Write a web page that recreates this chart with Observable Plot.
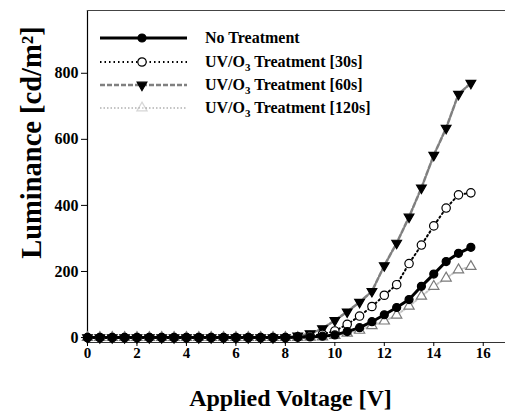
<!DOCTYPE html>
<html>
<head>
<meta charset="utf-8">
<script src="https://cdn.jsdelivr.net/npm/d3@7"></script>
<script src="https://cdn.jsdelivr.net/npm/@observablehq/plot@0.6"></script>
<style>
  html, body { margin: 0; padding: 0; background: #fff; }
  #wrap { position: relative; width: 505px; height: 419px; font-family: "Liberation Serif", "Times New Roman", serif; }
  #legend { position: absolute; left: 100px; top: 0; font-weight: bold; font-size: 16px; color: #000; }
  .row { position: absolute; left: 0; display: flex; align-items: center; height: 20px; white-space: nowrap; }
  .row svg { width: 90px; height: 14px; margin-right: 15px; overflow: visible; flex: none; }
</style>
</head>
<body>
<div id="wrap">
  <div id="legend"></div>
</div>
<script>
// ---- data ----
const voltage = [0, 0.5, 1, 1.5, 2, 2.5, 3, 3.5, 4, 4.5, 5, 5.5, 6, 6.5, 7, 7.5,
                 8, 8.5, 9, 9.5, 10, 10.5, 11, 11.5, 12, 12.5, 13, 13.5, 14, 14.5, 15, 15.5];
const noTreatment = [0, 0, 0, 0, 0, 0, 0, 0, 0, 0, 0, 0, 0, 0, 0, 0,
                     0, 1, 2, 4, 8, 18, 30, 48, 69, 91, 115, 155, 192, 230, 255, 273];
const uv30 = [0, 0, 0, 0, 0, 0, 0, 0, 0, 0, 0, 0, 0, 0, 0, 0,
              0, 2, 5, 10, 20, 40, 65, 94, 128, 160, 224, 280, 338, 392, 432, 438];
const uv60 = [0, 0, 0, 0, 0, 0, 0, 0, 0, 0, 0, 0, 0, 0, 0, 0,
              0, 5, 12, 27, 52, 78, 107, 140, 218, 286, 365, 453, 552, 634, 737, 770];
const uv120 = [0, 0, 0, 0, 0, 0, 0, 0, 0, 0, 0, 0, 0, 0, 0, 0,
               0, 0, 1, 2, 6, 13, 22, 36, 50, 68, 95, 125, 155, 180, 205, 215];
const xTicks = [0, 2, 4, 6, 8, 10, 12, 14, 16];
const yTicks = [0, 200, 400, 600, 800];
const seriesNames = ["No Treatment", "UV/O₃ Treatment [30s]", "UV/O₃ Treatment [60s]", "UV/O₃ Treatment [120s]"];

// ---- styles per series ----
const styles = [
  {line: "#000", width: 3, dash: null, symbol: "circle", fill: "#000", stroke: "#000", r: 4, rotate: 0},
  {line: "#000", width: 2, dash: "1.5 3", symbol: "circle", fill: "#fff", stroke: "#000", r: 4.2, rotate: 0},
  {line: "#808080", width: 2.5, dash: "5 2", symbol: "triangle", fill: "#000", stroke: "#000", r: 3.6, rotate: 180},
  {line: "#c4c4c4", width: 2, dash: "1.5 2", symbol: "triangle", fill: "#fff", stroke: "#7a7a7a", r: 3.8, rotate: 0}
];
const seriesValues = [noTreatment, uv30, uv60, uv120];

const tidy = seriesValues.map((vals) => voltage.map((v, i) => ({x: v, y: vals[i]})));

const font = "Liberation Serif, Times New Roman, serif";
const marks = [
  Plot.frame({anchor: "left", strokeWidth: 1.2}),
  Plot.frame({anchor: "top", strokeWidth: 1.2, stroke: "#444"}),
  Plot.frame({anchor: "bottom", strokeWidth: 1.2, stroke: "#333"}),
  Plot.axisX({ticks: xTicks, tickSize: 4, tickPadding: 1, fontSize: 15, fontWeight: "bold", label: null}),
  Plot.axisY({ticks: yTicks, tickSize: 6, tickPadding: 3, fontSize: 16, fontWeight: "bold", label: null}),
];
// lines: draw lightest / back first
[3, 2, 1, 0].forEach((k) => {
  const s = styles[k];
  marks.push(Plot.line(tidy[k], {x: "x", y: "y", stroke: s.line, strokeWidth: s.width, strokeDasharray: s.dash}));
});
[3, 2, 1, 0].forEach((k) => {
  const s = styles[k];
  marks.push(Plot.dot(tidy[k], {x: "x", y: "y", symbol: s.symbol, r: s.r, fill: s.fill, stroke: s.stroke, strokeWidth: 1.2, rotate: s.rotate}));
});
marks.push(Plot.text(["Applied Voltage [V]"], {frameAnchor: "bottom", lineAnchor: "middle", textAnchor: "middle", dy: 56, dx: -6, fontSize: 24, fontWeight: "bold", fill: "#000"}));
marks.push(Plot.text(["Luminance [cd/m²]"], {frameAnchor: "left", textAnchor: "middle", lineAnchor: "middle", dx: -56, dy: -34, rotate: -90, fontSize: 28.5, fontWeight: "bold", fill: "#000"}));

const chart = Plot.plot({
  width: 505, height: 419,
  marginLeft: 87, marginRight: 0, marginTop: 10, marginBottom: 77,
  x: {domain: [0, 16.9]},
  y: {domain: [-15, 990]},
  style: {fontFamily: font, background: "#fff", color: "#000"},
  marks
});
document.getElementById("wrap").prepend(chart);

// ---- legend ----
const legend = document.getElementById("legend");
const rowCenters = [38, 61.5, 85, 108];
seriesNames.forEach((name, k) => {
  const s = styles[k];
  const row = document.createElement("div");
  row.className = "row";
  row.style.top = (rowCenters[k] - 10) + "px";
  const ns = "http://www.w3.org/2000/svg";
  const svg = document.createElementNS(ns, "svg");
  const ln = document.createElementNS(ns, "line");
  ln.setAttribute("x1", 0); ln.setAttribute("x2", 87); ln.setAttribute("y1", 7); ln.setAttribute("y2", 7);
  ln.setAttribute("stroke", s.line); ln.setAttribute("stroke-width", s.width);
  if (s.dash) ln.setAttribute("stroke-dasharray", s.dash);
  svg.appendChild(ln);
  let m;
  if (s.symbol === "circle") {
    m = document.createElementNS(ns, "circle");
    m.setAttribute("cx", 42); m.setAttribute("cy", 7); m.setAttribute("r", s.r);
  } else {
    m = document.createElementNS(ns, "path");
    const d = d3.symbol(d3.symbolTriangle, Math.PI * s.r * s.r)();
    m.setAttribute("d", d);
    m.setAttribute("transform", `translate(42,7) rotate(${s.rotate})`);
  }
  m.setAttribute("fill", s.fill); m.setAttribute("stroke", s.stroke); m.setAttribute("stroke-width", 1.2);
  if (k === 3) m.setAttribute("opacity", 0.3);
  svg.appendChild(m);
  row.appendChild(svg);
  const label = document.createElement("span");
  label.style.lineHeight = "20px";
  if (k === 0) label.textContent = name;
  else {
    const tail = name.slice("UV/O₃ ".length);
    label.innerHTML = `UV/O<sub style="font-size:11px;line-height:0;vertical-align:-4px">3</sub> ${tail}`;
  }
  row.appendChild(label);
  legend.appendChild(row);
});
</script>
</body>
</html>
